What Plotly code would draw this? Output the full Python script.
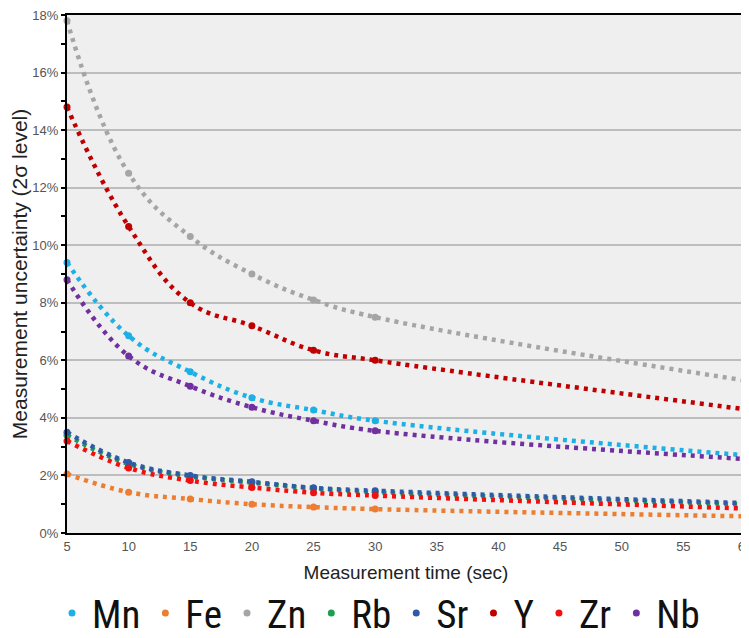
import plotly.graph_objects as go

times = [5, 10, 15, 20, 25, 30, 60]
elements = ["Mn", "Fe", "Zn", "Rb", "Sr", "Y", "Zr", "Nb"]
colors = ["#1cb0e6", "#ed7d31", "#a5a5a5", "#1f9e50", "#2e5aa8", "#c00000", "#f01010", "#7030a0"]

mn = [9.4, 6.85, 5.6, 4.7, 4.27, 3.9, 2.7]
fe = [2.05, 1.42, 1.18, 1.0, 0.9, 0.83, 0.58]
zn = [17.8, 12.5, 10.3, 9.0, 8.1, 7.5, 5.3]
rb = [3.4, 2.4, 1.97, 1.75, 1.55, 1.42, 1.0]
sr = [3.5, 2.45, 2.0, 1.78, 1.57, 1.47, 1.04]
y_ = [14.8, 10.65, 8.0, 7.2, 6.35, 6.0, 4.3]
zr = [3.2, 2.26, 1.82, 1.58, 1.4, 1.3, 0.85]
nb = [8.8, 6.15, 5.1, 4.37, 3.9, 3.55, 2.57]
series = [mn, fe, zn, rb, sr, y_, zr, nb]

x_ticks = [5, 10, 15, 20, 25, 30, 35, 40, 45, 50, 55, 60]
y_ticks = [0, 2, 4, 6, 8, 10, 12, 14, 16, 18]
y_tick_labels = [f"{v}%" for v in y_ticks]

fig = go.Figure()
for name, vals, c in zip(elements, series, colors):
    fig.add_trace(go.Scatter(
        x=times, y=vals, mode="lines",
        line=dict(color=c, width=4.5, dash="4px,5px", shape="spline", smoothing=1.2),
        showlegend=False, hoverinfo="skip"))
for name, vals, c in zip(elements, series, colors):
    fig.add_trace(go.Scatter(
        x=times, y=vals, mode="markers", name=name,
        marker=dict(color=c, size=7), cliponaxis=False))

# page body has an 8px margin, so the figure is sized to fill the rest of the window
fig.update_layout(
    width=741, height=630,
    margin=dict(l=59, r=4, t=7, b=105, autoexpand=False),
    paper_bgcolor="white", plot_bgcolor="#efefef",
    font=dict(family="Liberation Sans, Arial, sans-serif", color="#333"),
    legend=dict(orientation="h", x=0.5, xanchor="center", xref="container",
                y=-0.093, yanchor="top", yref="paper",
                font=dict(size=39, color="#111",
                          family="Liberation Sans Narrow, Roboto Condensed, Liberation Sans, sans-serif"),
                itemsizing="trace", itemwidth=30, tracegroupgap=0),
    showlegend=True,
)
fig.update_xaxes(
    range=[5, 60], tickvals=x_ticks, ticks="", showgrid=False, zeroline=False,
    showline=True, linecolor="black", linewidth=2, mirror=True,
    automargin=True, ticklabeloverflow="allow",
    tickfont=dict(size=13, color="#555"),
    title=dict(text="Measurement time (sec)", font=dict(size=19, color="#222"), standoff=13),
)
fig.update_yaxes(
    range=[0, 18], tickvals=y_ticks, ticktext=y_tick_labels,
    ticks="outside", ticklen=4, tickcolor="black", tickwidth=2,
    showgrid=True, gridcolor="#bdbdbd", gridwidth=1.5, zeroline=False,
    showline=True, linecolor="black", linewidth=2, mirror=True,
    automargin=False, ticklabeloverflow="allow",
    tickfont=dict(size=13, color="#555"),
    minor=dict(dtick=1, ticks="outside", ticklen=4, tickcolor="black", tickwidth=2, showgrid=False),
    title=dict(text="Measurement uncertainty (2σ level)", font=dict(size=21, color="#222"), standoff=6),
)
fig.write_html("out.html")
